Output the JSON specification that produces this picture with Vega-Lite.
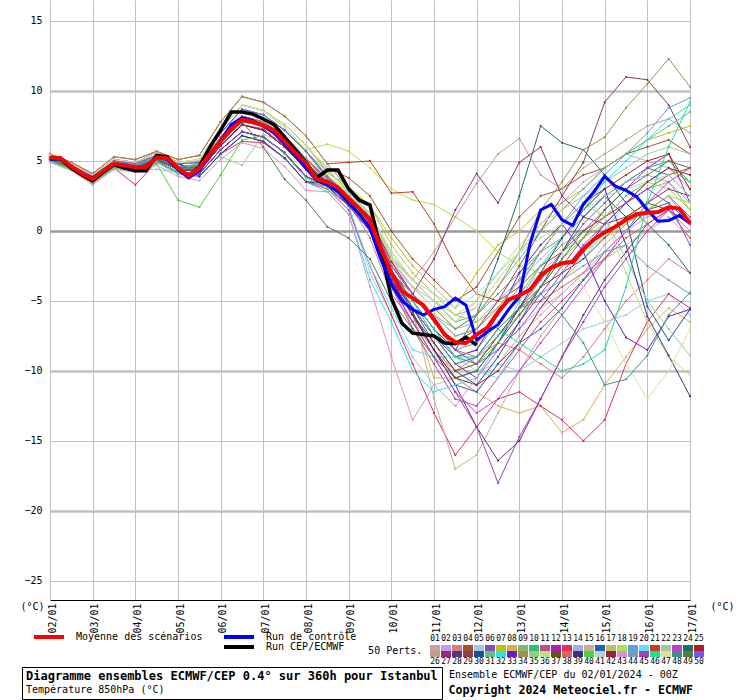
{
"$schema": "https://vega.github.io/schema/vega-lite/v6.json",
"width": 640,
"height": 600,
"autosize": {"type": "none"},
"padding": {"left": 50, "top": 0, "right": 50, "bottom": 100},
"background": "white",
"config": {
  "view": {"stroke": null},
  "font": "DejaVu Sans Mono",
  "axis": {"labelFont": "DejaVu Sans Mono", "labelFontSize": 10, "labelColor": "black", "titleFont": "DejaVu Sans Mono", "titleFontSize": 10, "titleFontWeight": "normal", "titleColor": "black"},
  "legend": {"labelFont": "DejaVu Sans Mono", "titleFont": "DejaVu Sans Mono", "labelColor": "black", "titleColor": "black"}
},
"datasets": {
"members": [
{"m":1,"h":0,"v":5.3},{"m":1,"h":12,"v":4.7},{"m":1,"h":24,"v":3.8},{"m":1,"h":36,"v":4.9},{"m":1,"h":48,"v":4.7},{"m":1,"h":60,"v":5.3},{"m":1,"h":72,"v":4.6},{"m":1,"h":84,"v":4.7},{"m":1,"h":96,"v":6.7},{"m":1,"h":108,"v":8.2},{"m":1,"h":120,"v":7.8},{"m":1,"h":132,"v":6.8},{"m":1,"h":144,"v":5.2},{"m":1,"h":156,"v":3.8},{"m":1,"h":168,"v":2.6},{"m":1,"h":180,"v":0.8},{"m":1,"h":192,"v":-3.2},{"m":1,"h":204,"v":-7},{"m":1,"h":216,"v":-8},{"m":1,"h":228,"v":-10.5},{"m":1,"h":240,"v":-11.5},{"m":1,"h":252,"v":-9.5},{"m":1,"h":264,"v":-7.5},{"m":1,"h":276,"v":-6},{"m":1,"h":288,"v":-4.5},{"m":1,"h":300,"v":-3},{"m":1,"h":312,"v":-1},{"m":1,"h":324,"v":0.5},{"m":1,"h":336,"v":1.5},{"m":1,"h":348,"v":2.5},{"m":1,"h":360,"v":0.5},
{"m":2,"h":0,"v":5.1},{"m":2,"h":12,"v":4.5},{"m":2,"h":24,"v":3.5},{"m":2,"h":36,"v":4.6},{"m":2,"h":48,"v":4.4},{"m":2,"h":60,"v":5},{"m":2,"h":72,"v":4.2},{"m":2,"h":84,"v":4.1},{"m":2,"h":96,"v":5.8},{"m":2,"h":108,"v":7.1},{"m":2,"h":120,"v":6.7},{"m":2,"h":132,"v":5.6},{"m":2,"h":144,"v":3.9},{"m":2,"h":156,"v":3.2},{"m":2,"h":168,"v":2},{"m":2,"h":180,"v":0},{"m":2,"h":192,"v":-2.5},{"m":2,"h":204,"v":-4},{"m":2,"h":216,"v":-5},{"m":2,"h":228,"v":-6},{"m":2,"h":240,"v":-5.5},{"m":2,"h":252,"v":-3.5},{"m":2,"h":264,"v":-1.5},{"m":2,"h":276,"v":0.5},{"m":2,"h":288,"v":2},{"m":2,"h":300,"v":3.5},{"m":2,"h":312,"v":4.5},{"m":2,"h":324,"v":5.5},{"m":2,"h":336,"v":5},{"m":2,"h":348,"v":4.5},{"m":2,"h":360,"v":3},
{"m":3,"h":0,"v":5.2},{"m":3,"h":12,"v":4.5},{"m":3,"h":24,"v":3.7},{"m":3,"h":36,"v":4.9},{"m":3,"h":48,"v":4.6},{"m":3,"h":60,"v":5.1},{"m":3,"h":72,"v":4.5},{"m":3,"h":84,"v":4.4},{"m":3,"h":96,"v":6.4},{"m":3,"h":108,"v":7.9},{"m":3,"h":120,"v":7.6},{"m":3,"h":132,"v":6.4},{"m":3,"h":144,"v":4.8},{"m":3,"h":156,"v":3.4},{"m":3,"h":168,"v":2},{"m":3,"h":180,"v":-0.5},{"m":3,"h":192,"v":-4.5},{"m":3,"h":204,"v":-6.5},{"m":3,"h":216,"v":-8.5},{"m":3,"h":228,"v":-10},{"m":3,"h":240,"v":-9},{"m":3,"h":252,"v":-8},{"m":3,"h":264,"v":-8.5},{"m":3,"h":276,"v":-9.5},{"m":3,"h":288,"v":-10.5},{"m":3,"h":300,"v":-9},{"m":3,"h":312,"v":-7},{"m":3,"h":324,"v":-5},{"m":3,"h":336,"v":-3.5},{"m":3,"h":348,"v":-2},{"m":3,"h":360,"v":-3},
{"m":4,"h":0,"v":5.4},{"m":4,"h":12,"v":4.8},{"m":4,"h":24,"v":4},{"m":4,"h":36,"v":5.1},{"m":4,"h":48,"v":4.9},{"m":4,"h":60,"v":5.6},{"m":4,"h":72,"v":4.9},{"m":4,"h":84,"v":5.1},{"m":4,"h":96,"v":7.3},{"m":4,"h":108,"v":9},{"m":4,"h":120,"v":8.6},{"m":4,"h":132,"v":7.6},{"m":4,"h":144,"v":6.1},{"m":4,"h":156,"v":4.5},{"m":4,"h":168,"v":3.8},{"m":4,"h":180,"v":2.5},{"m":4,"h":192,"v":0},{"m":4,"h":204,"v":-2},{"m":4,"h":216,"v":-3.5},{"m":4,"h":228,"v":-5},{"m":4,"h":240,"v":-4},{"m":4,"h":252,"v":-1.5},{"m":4,"h":264,"v":1},{"m":4,"h":276,"v":2.5},{"m":4,"h":288,"v":3},{"m":4,"h":300,"v":4},{"m":4,"h":312,"v":4.5},{"m":4,"h":324,"v":5.5},{"m":4,"h":336,"v":6},{"m":4,"h":348,"v":6.5},{"m":4,"h":360,"v":5.5},
{"m":5,"h":0,"v":5.1},{"m":5,"h":12,"v":4.5},{"m":5,"h":24,"v":3.5},{"m":5,"h":36,"v":4.6},{"m":5,"h":48,"v":4.4},{"m":5,"h":60,"v":5},{"m":5,"h":72,"v":4.2},{"m":5,"h":84,"v":4.9},{"m":5,"h":96,"v":7},{"m":5,"h":108,"v":8.7},{"m":5,"h":120,"v":8.3},{"m":5,"h":132,"v":7.2},{"m":5,"h":144,"v":5.7},{"m":5,"h":156,"v":3.6},{"m":5,"h":168,"v":1.8},{"m":5,"h":180,"v":-3},{"m":5,"h":192,"v":-6},{"m":5,"h":204,"v":-9},{"m":5,"h":216,"v":-11},{"m":5,"h":228,"v":-10.5},{"m":5,"h":240,"v":-10},{"m":5,"h":252,"v":-9.5},{"m":5,"h":264,"v":-10},{"m":5,"h":276,"v":-9},{"m":5,"h":288,"v":-8},{"m":5,"h":300,"v":-7},{"m":5,"h":312,"v":-6.5},{"m":5,"h":324,"v":-6},{"m":5,"h":336,"v":-5},{"m":5,"h":348,"v":-4.5},{"m":5,"h":360,"v":-6},
{"m":6,"h":0,"v":5.1},{"m":6,"h":12,"v":4.5},{"m":6,"h":24,"v":3.6},{"m":6,"h":36,"v":4.7},{"m":6,"h":48,"v":4.5},{"m":6,"h":60,"v":5.1},{"m":6,"h":72,"v":4.4},{"m":6,"h":84,"v":4.3},{"m":6,"h":96,"v":6.1},{"m":6,"h":108,"v":7.6},{"m":6,"h":120,"v":7.2},{"m":6,"h":132,"v":6},{"m":6,"h":144,"v":4.4},{"m":6,"h":156,"v":3.6},{"m":6,"h":168,"v":2.2},{"m":6,"h":180,"v":0.8},{"m":6,"h":192,"v":-2.8},{"m":6,"h":204,"v":-5},{"m":6,"h":216,"v":-7},{"m":6,"h":228,"v":-9},{"m":6,"h":240,"v":-9.5},{"m":6,"h":252,"v":-7.5},{"m":6,"h":264,"v":-5.5},{"m":6,"h":276,"v":-3.5},{"m":6,"h":288,"v":-1.5},{"m":6,"h":300,"v":0.5},{"m":6,"h":312,"v":2},{"m":6,"h":324,"v":3.5},{"m":6,"h":336,"v":4.5},{"m":6,"h":348,"v":4},{"m":6,"h":360,"v":2.5},
{"m":7,"h":0,"v":5.3},{"m":7,"h":12,"v":4.7},{"m":7,"h":24,"v":3.9},{"m":7,"h":36,"v":5},{"m":7,"h":48,"v":4.8},{"m":7,"h":60,"v":5.4},{"m":7,"h":72,"v":4.8},{"m":7,"h":84,"v":4.9},{"m":7,"h":96,"v":7},{"m":7,"h":108,"v":8.7},{"m":7,"h":120,"v":8.3},{"m":7,"h":132,"v":7.2},{"m":7,"h":144,"v":5.7},{"m":7,"h":156,"v":4.2},{"m":7,"h":168,"v":3},{"m":7,"h":180,"v":1.8},{"m":7,"h":192,"v":-0.5},{"m":7,"h":204,"v":-2.5},{"m":7,"h":216,"v":-4},{"m":7,"h":228,"v":-5.5},{"m":7,"h":240,"v":-3},{"m":7,"h":252,"v":-1},{"m":7,"h":264,"v":0},{"m":7,"h":276,"v":1.5},{"m":7,"h":288,"v":2},{"m":7,"h":300,"v":3},{"m":7,"h":312,"v":4.5},{"m":7,"h":324,"v":5.5},{"m":7,"h":336,"v":6.5},{"m":7,"h":348,"v":7},{"m":7,"h":360,"v":7.5},
{"m":8,"h":0,"v":5.3},{"m":8,"h":12,"v":4.7},{"m":8,"h":24,"v":3.9},{"m":8,"h":36,"v":5},{"m":8,"h":48,"v":4.8},{"m":8,"h":60,"v":5.4},{"m":8,"h":72,"v":4.8},{"m":8,"h":84,"v":4.1},{"m":8,"h":96,"v":5.8},{"m":8,"h":108,"v":7.1},{"m":8,"h":120,"v":6.7},{"m":8,"h":132,"v":5.6},{"m":8,"h":144,"v":3.9},{"m":8,"h":156,"v":3.2},{"m":8,"h":168,"v":1.8},{"m":8,"h":180,"v":0},{"m":8,"h":192,"v":-3.5},{"m":8,"h":204,"v":-6},{"m":8,"h":216,"v":-10.5},{"m":8,"h":228,"v":-10.5},{"m":8,"h":240,"v":-11.5},{"m":8,"h":252,"v":-12.5},{"m":8,"h":264,"v":-13},{"m":8,"h":276,"v":-12.5},{"m":8,"h":288,"v":-14.4},{"m":8,"h":300,"v":-13.5},{"m":8,"h":312,"v":-11},{"m":8,"h":324,"v":-9},{"m":8,"h":336,"v":-7},{"m":8,"h":348,"v":-5.5},{"m":8,"h":360,"v":-6.5},
{"m":9,"h":0,"v":5.2},{"m":9,"h":12,"v":4.7},{"m":9,"h":24,"v":3.8},{"m":9,"h":36,"v":4.8},{"m":9,"h":48,"v":4.7},{"m":9,"h":60,"v":5.3},{"m":9,"h":72,"v":4.6},{"m":9,"h":84,"v":4.6},{"m":9,"h":96,"v":6.7},{"m":9,"h":108,"v":8.2},{"m":9,"h":120,"v":7.7},{"m":9,"h":132,"v":6.7},{"m":9,"h":144,"v":5.1},{"m":9,"h":156,"v":3.5},{"m":9,"h":168,"v":2.3},{"m":9,"h":180,"v":0.6},{"m":9,"h":192,"v":-3},{"m":9,"h":204,"v":-5},{"m":9,"h":216,"v":-7},{"m":9,"h":228,"v":-9},{"m":9,"h":240,"v":-8.5},{"m":9,"h":252,"v":-6.5},{"m":9,"h":264,"v":-4.5},{"m":9,"h":276,"v":-2.5},{"m":9,"h":288,"v":-1},{"m":9,"h":300,"v":0},{"m":9,"h":312,"v":1},{"m":9,"h":324,"v":2},{"m":9,"h":336,"v":3},{"m":9,"h":348,"v":3.5},{"m":9,"h":360,"v":1.5},
{"m":10,"h":0,"v":5},{"m":10,"h":12,"v":4.4},{"m":10,"h":24,"v":3.5},{"m":10,"h":36,"v":4.5},{"m":10,"h":48,"v":4.3},{"m":10,"h":60,"v":4.9},{"m":10,"h":72,"v":4.1},{"m":10,"h":84,"v":5.1},{"m":10,"h":96,"v":7.3},{"m":10,"h":108,"v":9},{"m":10,"h":120,"v":8.6},{"m":10,"h":132,"v":7.6},{"m":10,"h":144,"v":6.1},{"m":10,"h":156,"v":4.5},{"m":10,"h":168,"v":2.7},{"m":10,"h":180,"v":1.2},{"m":10,"h":192,"v":-1.8},{"m":10,"h":204,"v":-3.5},{"m":10,"h":216,"v":-5},{"m":10,"h":228,"v":-6.5},{"m":10,"h":240,"v":-6},{"m":10,"h":252,"v":-4.5},{"m":10,"h":264,"v":-3},{"m":10,"h":276,"v":-1.5},{"m":10,"h":288,"v":-0.5},{"m":10,"h":300,"v":1},{"m":10,"h":312,"v":2.5},{"m":10,"h":324,"v":3.5},{"m":10,"h":336,"v":4.5},{"m":10,"h":348,"v":5},{"m":10,"h":360,"v":3.5},
{"m":11,"h":0,"v":5.1},{"m":11,"h":12,"v":4.6},{"m":11,"h":24,"v":3.6},{"m":11,"h":36,"v":4.7},{"m":11,"h":48,"v":4.5},{"m":11,"h":60,"v":5.2},{"m":11,"h":72,"v":4.4},{"m":11,"h":84,"v":4.4},{"m":11,"h":96,"v":6.1},{"m":11,"h":108,"v":7.6},{"m":11,"h":120,"v":7.3},{"m":11,"h":132,"v":6.1},{"m":11,"h":144,"v":4.5},{"m":11,"h":156,"v":3.5},{"m":11,"h":168,"v":2.2},{"m":11,"h":180,"v":0.3},{"m":11,"h":192,"v":-4},{"m":11,"h":204,"v":-7},{"m":11,"h":216,"v":-9.5},{"m":11,"h":228,"v":-12},{"m":11,"h":240,"v":-12.5},{"m":11,"h":252,"v":-10.5},{"m":11,"h":264,"v":-8.5},{"m":11,"h":276,"v":-6.5},{"m":11,"h":288,"v":-5},{"m":11,"h":300,"v":-3.5},{"m":11,"h":312,"v":-2},{"m":11,"h":324,"v":0},{"m":11,"h":336,"v":1.5},{"m":11,"h":348,"v":2.5},{"m":11,"h":360,"v":1},
{"m":12,"h":0,"v":5.2},{"m":12,"h":12,"v":4.6},{"m":12,"h":24,"v":3.7},{"m":12,"h":36,"v":4.8},{"m":12,"h":48,"v":4.6},{"m":12,"h":60,"v":5.2},{"m":12,"h":72,"v":4.5},{"m":12,"h":84,"v":4.5},{"m":12,"h":96,"v":6.4},{"m":12,"h":108,"v":7.9},{"m":12,"h":120,"v":7.5},{"m":12,"h":132,"v":6.4},{"m":12,"h":144,"v":4.8},{"m":12,"h":156,"v":3.4},{"m":12,"h":168,"v":2.2},{"m":12,"h":180,"v":0.5},{"m":12,"h":192,"v":-3.5},{"m":12,"h":204,"v":-5.5},{"m":12,"h":216,"v":-7.5},{"m":12,"h":228,"v":-9.5},{"m":12,"h":240,"v":-10.5},{"m":12,"h":252,"v":-8.5},{"m":12,"h":264,"v":-6.5},{"m":12,"h":276,"v":-4.5},{"m":12,"h":288,"v":-2.5},{"m":12,"h":300,"v":-0.5},{"m":12,"h":312,"v":1.5},{"m":12,"h":324,"v":3},{"m":12,"h":336,"v":4.5},{"m":12,"h":348,"v":5.5},{"m":12,"h":360,"v":2},
{"m":13,"h":0,"v":5},{"m":13,"h":12,"v":4.4},{"m":13,"h":24,"v":3.4},{"m":13,"h":36,"v":4.5},{"m":13,"h":48,"v":3.3},{"m":13,"h":60,"v":4.9},{"m":13,"h":72,"v":4.1},{"m":13,"h":84,"v":3.9},{"m":13,"h":96,"v":5.5},{"m":13,"h":108,"v":6.4},{"m":13,"h":120,"v":6.3},{"m":13,"h":132,"v":5.2},{"m":13,"h":144,"v":3.5},{"m":13,"h":156,"v":3},{"m":13,"h":168,"v":1.5},{"m":13,"h":180,"v":-2.5},{"m":13,"h":192,"v":-6},{"m":13,"h":204,"v":-9.5},{"m":13,"h":216,"v":-13},{"m":13,"h":228,"v":-16},{"m":13,"h":240,"v":-14},{"m":13,"h":252,"v":-12},{"m":13,"h":264,"v":-11.5},{"m":13,"h":276,"v":-12.5},{"m":13,"h":288,"v":-13.5},{"m":13,"h":300,"v":-15},{"m":13,"h":312,"v":-13.5},{"m":13,"h":324,"v":-9.5},{"m":13,"h":336,"v":-6.5},{"m":13,"h":348,"v":-4.5},{"m":13,"h":360,"v":-5.5},
{"m":14,"h":0,"v":5.3},{"m":14,"h":12,"v":4.7},{"m":14,"h":24,"v":3.9},{"m":14,"h":36,"v":5},{"m":14,"h":48,"v":4.8},{"m":14,"h":60,"v":5.4},{"m":14,"h":72,"v":4.8},{"m":14,"h":84,"v":4.9},{"m":14,"h":96,"v":7},{"m":14,"h":108,"v":8.7},{"m":14,"h":120,"v":8.3},{"m":14,"h":132,"v":7.2},{"m":14,"h":144,"v":5.7},{"m":14,"h":156,"v":3.9},{"m":14,"h":168,"v":2.5},{"m":14,"h":180,"v":1},{"m":14,"h":192,"v":-2.2},{"m":14,"h":204,"v":-4},{"m":14,"h":216,"v":-5.5},{"m":14,"h":228,"v":-7},{"m":14,"h":240,"v":-6.5},{"m":14,"h":252,"v":-5},{"m":14,"h":264,"v":-3.5},{"m":14,"h":276,"v":-2},{"m":14,"h":288,"v":-0.5},{"m":14,"h":300,"v":1},{"m":14,"h":312,"v":2.5},{"m":14,"h":324,"v":3.5},{"m":14,"h":336,"v":4},{"m":14,"h":348,"v":3.5},{"m":14,"h":360,"v":2},
{"m":15,"h":0,"v":5.3},{"m":15,"h":12,"v":4.7},{"m":15,"h":24,"v":3.8},{"m":15,"h":36,"v":4.9},{"m":15,"h":48,"v":4.7},{"m":15,"h":60,"v":5.3},{"m":15,"h":72,"v":4.6},{"m":15,"h":84,"v":4.7},{"m":15,"h":96,"v":6.7},{"m":15,"h":108,"v":8.2},{"m":15,"h":120,"v":7.8},{"m":15,"h":132,"v":6.8},{"m":15,"h":144,"v":5.2},{"m":15,"h":156,"v":3.7},{"m":15,"h":168,"v":2.5},{"m":15,"h":180,"v":1},{"m":15,"h":192,"v":-2},{"m":15,"h":204,"v":-5.5},{"m":15,"h":216,"v":-12},{"m":15,"h":228,"v":-17},{"m":15,"h":240,"v":-16},{"m":15,"h":252,"v":-13},{"m":15,"h":264,"v":-10},{"m":15,"h":276,"v":-7.5},{"m":15,"h":288,"v":-5.5},{"m":15,"h":300,"v":-3.5},{"m":15,"h":312,"v":-2},{"m":15,"h":324,"v":-1},{"m":15,"h":336,"v":0},{"m":15,"h":348,"v":1},{"m":15,"h":360,"v":-0.5},
{"m":16,"h":0,"v":5.4},{"m":16,"h":12,"v":4.8},{"m":16,"h":24,"v":4},{"m":16,"h":36,"v":5.1},{"m":16,"h":48,"v":4.9},{"m":16,"h":60,"v":5.6},{"m":16,"h":72,"v":4.9},{"m":16,"h":84,"v":3.9},{"m":16,"h":96,"v":5.5},{"m":16,"h":108,"v":6.8},{"m":16,"h":120,"v":6.4},{"m":16,"h":132,"v":5.2},{"m":16,"h":144,"v":3.5},{"m":16,"h":156,"v":3.4},{"m":16,"h":168,"v":2},{"m":16,"h":180,"v":0.4},{"m":16,"h":192,"v":-3.2},{"m":16,"h":204,"v":-5.8},{"m":16,"h":216,"v":-8.5},{"m":16,"h":228,"v":-11},{"m":16,"h":240,"v":-11.5},{"m":16,"h":252,"v":-9.5},{"m":16,"h":264,"v":-8},{"m":16,"h":276,"v":-7},{"m":16,"h":288,"v":-5.5},{"m":16,"h":300,"v":-3.5},{"m":16,"h":312,"v":-1.5},{"m":16,"h":324,"v":0},{"m":16,"h":336,"v":1.5},{"m":16,"h":348,"v":2},{"m":16,"h":360,"v":0.5},
{"m":17,"h":0,"v":5.4},{"m":17,"h":12,"v":4.8},{"m":17,"h":24,"v":4},{"m":17,"h":36,"v":5.1},{"m":17,"h":48,"v":4.9},{"m":17,"h":60,"v":5.6},{"m":17,"h":72,"v":4.9},{"m":17,"h":84,"v":5.1},{"m":17,"h":96,"v":7.3},{"m":17,"h":108,"v":9},{"m":17,"h":120,"v":8.6},{"m":17,"h":132,"v":7.6},{"m":17,"h":144,"v":6.1},{"m":17,"h":156,"v":4.2},{"m":17,"h":168,"v":3.2},{"m":17,"h":180,"v":1.8},{"m":17,"h":192,"v":-1},{"m":17,"h":204,"v":-3},{"m":17,"h":216,"v":-4.5},{"m":17,"h":228,"v":-6},{"m":17,"h":240,"v":-6.5},{"m":17,"h":252,"v":-5.5},{"m":17,"h":264,"v":-4.5},{"m":17,"h":276,"v":-3},{"m":17,"h":288,"v":-1.5},{"m":17,"h":300,"v":-0.5},{"m":17,"h":312,"v":0.5},{"m":17,"h":324,"v":2},{"m":17,"h":336,"v":3.5},{"m":17,"h":348,"v":3},{"m":17,"h":360,"v":1.5},
{"m":18,"h":0,"v":5.4},{"m":18,"h":12,"v":4.8},{"m":18,"h":24,"v":4},{"m":18,"h":36,"v":5.1},{"m":18,"h":48,"v":4.9},{"m":18,"h":60,"v":5.6},{"m":18,"h":72,"v":4.9},{"m":18,"h":84,"v":5.1},{"m":18,"h":96,"v":7.3},{"m":18,"h":108,"v":9},{"m":18,"h":120,"v":8.6},{"m":18,"h":132,"v":7.4},{"m":18,"h":144,"v":5.8},{"m":18,"h":156,"v":6.2},{"m":18,"h":168,"v":5.7},{"m":18,"h":180,"v":4.5},{"m":18,"h":192,"v":3},{"m":18,"h":204,"v":2.2},{"m":18,"h":216,"v":1.9},{"m":18,"h":228,"v":1},{"m":18,"h":240,"v":0},{"m":18,"h":252,"v":-1.5},{"m":18,"h":264,"v":-2.5},{"m":18,"h":276,"v":-3},{"m":18,"h":288,"v":-2.5},{"m":18,"h":300,"v":-1.5},{"m":18,"h":312,"v":-0.5},{"m":18,"h":324,"v":0.5},{"m":18,"h":336,"v":1.5},{"m":18,"h":348,"v":2.5},{"m":18,"h":360,"v":2},
{"m":19,"h":0,"v":5.1},{"m":19,"h":12,"v":4.5},{"m":19,"h":24,"v":3.6},{"m":19,"h":36,"v":4.7},{"m":19,"h":48,"v":4.5},{"m":19,"h":60,"v":5.1},{"m":19,"h":72,"v":4.4},{"m":19,"h":84,"v":4.3},{"m":19,"h":96,"v":6.1},{"m":19,"h":108,"v":7.6},{"m":19,"h":120,"v":7.2},{"m":19,"h":132,"v":6},{"m":19,"h":144,"v":4.4},{"m":19,"h":156,"v":3.5},{"m":19,"h":168,"v":2.2},{"m":19,"h":180,"v":0.6},{"m":19,"h":192,"v":-3},{"m":19,"h":204,"v":-5},{"m":19,"h":216,"v":-7},{"m":19,"h":228,"v":-8.5},{"m":19,"h":240,"v":-8},{"m":19,"h":252,"v":-6},{"m":19,"h":264,"v":-4},{"m":19,"h":276,"v":-1.5},{"m":19,"h":288,"v":0.5},{"m":19,"h":300,"v":2.5},{"m":19,"h":312,"v":4},{"m":19,"h":324,"v":5.5},{"m":19,"h":336,"v":7},{"m":19,"h":348,"v":8.8},{"m":19,"h":360,"v":9.5},
{"m":20,"h":0,"v":5.1},{"m":20,"h":12,"v":4.5},{"m":20,"h":24,"v":3.5},{"m":20,"h":36,"v":4.6},{"m":20,"h":48,"v":4.4},{"m":20,"h":60,"v":4.4},{"m":20,"h":72,"v":4.2},{"m":20,"h":84,"v":4.1},{"m":20,"h":96,"v":5.8},{"m":20,"h":108,"v":7.1},{"m":20,"h":120,"v":6.7},{"m":20,"h":132,"v":5.6},{"m":20,"h":144,"v":3.9},{"m":20,"h":156,"v":3.2},{"m":20,"h":168,"v":1.8},{"m":20,"h":180,"v":-2.5},{"m":20,"h":192,"v":-5.5},{"m":20,"h":204,"v":-8.5},{"m":20,"h":216,"v":-9},{"m":20,"h":228,"v":-9},{"m":20,"h":240,"v":-10},{"m":20,"h":252,"v":-10.5},{"m":20,"h":264,"v":-8},{"m":20,"h":276,"v":-5.5},{"m":20,"h":288,"v":-3.5},{"m":20,"h":300,"v":-2},{"m":20,"h":312,"v":0},{"m":20,"h":324,"v":2},{"m":20,"h":336,"v":3.5},{"m":20,"h":348,"v":4.5},{"m":20,"h":360,"v":3.5},
{"m":21,"h":0,"v":5.5},{"m":21,"h":12,"v":4.9},{"m":21,"h":24,"v":4.1},{"m":21,"h":36,"v":5.3},{"m":21,"h":48,"v":5.1},{"m":21,"h":60,"v":5.7},{"m":21,"h":72,"v":5.1},{"m":21,"h":84,"v":5.4},{"m":21,"h":96,"v":7.8},{"m":21,"h":108,"v":9.6},{"m":21,"h":120,"v":9.2},{"m":21,"h":132,"v":8.2},{"m":21,"h":144,"v":6.8},{"m":21,"h":156,"v":4.8},{"m":21,"h":168,"v":4.9},{"m":21,"h":180,"v":5},{"m":21,"h":192,"v":2.7},{"m":21,"h":204,"v":2.8},{"m":21,"h":216,"v":0.5},{"m":21,"h":228,"v":-2.5},{"m":21,"h":240,"v":-4.5},{"m":21,"h":252,"v":-5},{"m":21,"h":264,"v":-4},{"m":21,"h":276,"v":-2.5},{"m":21,"h":288,"v":-1.5},{"m":21,"h":300,"v":0},{"m":21,"h":312,"v":1},{"m":21,"h":324,"v":2},{"m":21,"h":336,"v":3},{"m":21,"h":348,"v":4},{"m":21,"h":360,"v":4.5},
{"m":22,"h":0,"v":5.2},{"m":22,"h":12,"v":4.6},{"m":22,"h":24,"v":3.7},{"m":22,"h":36,"v":4.8},{"m":22,"h":48,"v":4.6},{"m":22,"h":60,"v":5.2},{"m":22,"h":72,"v":4.5},{"m":22,"h":84,"v":4.6},{"m":22,"h":96,"v":5.3},{"m":22,"h":108,"v":4.7},{"m":22,"h":120,"v":6.9},{"m":22,"h":132,"v":6.3},{"m":22,"h":144,"v":5},{"m":22,"h":156,"v":3.8},{"m":22,"h":168,"v":2.6},{"m":22,"h":180,"v":1.2},{"m":22,"h":192,"v":-1.5},{"m":22,"h":204,"v":-3.5},{"m":22,"h":216,"v":-5},{"m":22,"h":228,"v":-6.5},{"m":22,"h":240,"v":-5},{"m":22,"h":252,"v":-3},{"m":22,"h":264,"v":-1.5},{"m":22,"h":276,"v":0},{"m":22,"h":288,"v":1.5},{"m":22,"h":300,"v":2.5},{"m":22,"h":312,"v":3.5},{"m":22,"h":324,"v":4.5},{"m":22,"h":336,"v":5.5},{"m":22,"h":348,"v":6},{"m":22,"h":360,"v":5.5},
{"m":23,"h":0,"v":5},{"m":23,"h":12,"v":4.4},{"m":23,"h":24,"v":3.5},{"m":23,"h":36,"v":4.5},{"m":23,"h":48,"v":4.3},{"m":23,"h":60,"v":4.9},{"m":23,"h":72,"v":4.1},{"m":23,"h":84,"v":3.9},{"m":23,"h":96,"v":5.5},{"m":23,"h":108,"v":6.8},{"m":23,"h":120,"v":6.4},{"m":23,"h":132,"v":5.2},{"m":23,"h":144,"v":3.5},{"m":23,"h":156,"v":3.2},{"m":23,"h":168,"v":1.8},{"m":23,"h":180,"v":0},{"m":23,"h":192,"v":-4},{"m":23,"h":204,"v":-6.5},{"m":23,"h":216,"v":-9},{"m":23,"h":228,"v":-11.5},{"m":23,"h":240,"v":-13},{"m":23,"h":252,"v":-12},{"m":23,"h":264,"v":-10},{"m":23,"h":276,"v":-8},{"m":23,"h":288,"v":-6},{"m":23,"h":300,"v":-4},{"m":23,"h":312,"v":-2},{"m":23,"h":324,"v":0},{"m":23,"h":336,"v":2},{"m":23,"h":348,"v":3.5},{"m":23,"h":360,"v":4.5},
{"m":24,"h":0,"v":5.2},{"m":24,"h":12,"v":4.6},{"m":24,"h":24,"v":3.8},{"m":24,"h":36,"v":4.8},{"m":24,"h":48,"v":4.6},{"m":24,"h":60,"v":5.2},{"m":24,"h":72,"v":4.5},{"m":24,"h":84,"v":4.6},{"m":24,"h":96,"v":6.5},{"m":24,"h":108,"v":7.9},{"m":24,"h":120,"v":7.5},{"m":24,"h":132,"v":6.3},{"m":24,"h":144,"v":4.8},{"m":24,"h":156,"v":3.5},{"m":24,"h":168,"v":2.3},{"m":24,"h":180,"v":0.8},{"m":24,"h":192,"v":-2.8},{"m":24,"h":204,"v":-5},{"m":24,"h":216,"v":-7},{"m":24,"h":228,"v":-8.5},{"m":24,"h":240,"v":-6},{"m":24,"h":252,"v":-2},{"m":24,"h":264,"v":2.5},{"m":24,"h":276,"v":7.5},{"m":24,"h":288,"v":6.3},{"m":24,"h":300,"v":5.8},{"m":24,"h":312,"v":4},{"m":24,"h":324,"v":2},{"m":24,"h":336,"v":0.5},{"m":24,"h":348,"v":-1},{"m":24,"h":360,"v":-3},
{"m":25,"h":0,"v":5.1},{"m":25,"h":12,"v":4.5},{"m":25,"h":24,"v":3.5},{"m":25,"h":36,"v":4.6},{"m":25,"h":48,"v":4.4},{"m":25,"h":60,"v":5},{"m":25,"h":72,"v":4.2},{"m":25,"h":84,"v":4.9},{"m":25,"h":96,"v":7},{"m":25,"h":108,"v":8.7},{"m":25,"h":120,"v":8.3},{"m":25,"h":132,"v":7.2},{"m":25,"h":144,"v":5.7},{"m":25,"h":156,"v":3.8},{"m":25,"h":168,"v":2.4},{"m":25,"h":180,"v":1},{"m":25,"h":192,"v":-2.2},{"m":25,"h":204,"v":-4.5},{"m":25,"h":216,"v":-6.5},{"m":25,"h":228,"v":-8},{"m":25,"h":240,"v":-7},{"m":25,"h":252,"v":-5.5},{"m":25,"h":264,"v":-3.5},{"m":25,"h":276,"v":-1.5},{"m":25,"h":288,"v":0.5},{"m":25,"h":300,"v":2},{"m":25,"h":312,"v":3},{"m":25,"h":324,"v":4},{"m":25,"h":336,"v":5},{"m":25,"h":348,"v":5.5},{"m":25,"h":360,"v":3},
{"m":26,"h":0,"v":5.3},{"m":26,"h":12,"v":4.7},{"m":26,"h":24,"v":3.9},{"m":26,"h":36,"v":5},{"m":26,"h":48,"v":4.8},{"m":26,"h":60,"v":5.4},{"m":26,"h":72,"v":4.8},{"m":26,"h":84,"v":4.9},{"m":26,"h":96,"v":7},{"m":26,"h":108,"v":8.7},{"m":26,"h":120,"v":8.3},{"m":26,"h":132,"v":7.2},{"m":26,"h":144,"v":5.7},{"m":26,"h":156,"v":3.9},{"m":26,"h":168,"v":2.6},{"m":26,"h":180,"v":1},{"m":26,"h":192,"v":-2},{"m":26,"h":204,"v":-3.5},{"m":26,"h":216,"v":-1.5},{"m":26,"h":228,"v":1},{"m":26,"h":240,"v":3.4},{"m":26,"h":252,"v":5.5},{"m":26,"h":264,"v":6.6},{"m":26,"h":276,"v":4},{"m":26,"h":288,"v":3},{"m":26,"h":300,"v":4.5},{"m":26,"h":312,"v":5.5},{"m":26,"h":324,"v":6.5},{"m":26,"h":336,"v":7.5},{"m":26,"h":348,"v":8},{"m":26,"h":360,"v":7},
{"m":27,"h":0,"v":5.1},{"m":27,"h":12,"v":4.5},{"m":27,"h":24,"v":3.6},{"m":27,"h":36,"v":4.7},{"m":27,"h":48,"v":4.5},{"m":27,"h":60,"v":5.1},{"m":27,"h":72,"v":4.4},{"m":27,"h":84,"v":4.3},{"m":27,"h":96,"v":6.1},{"m":27,"h":108,"v":7.6},{"m":27,"h":120,"v":7.2},{"m":27,"h":132,"v":6},{"m":27,"h":144,"v":4.4},{"m":27,"h":156,"v":3.4},{"m":27,"h":168,"v":2.1},{"m":27,"h":180,"v":0.4},{"m":27,"h":192,"v":-3},{"m":27,"h":204,"v":-4.5},{"m":27,"h":216,"v":-2},{"m":27,"h":228,"v":1.5},{"m":27,"h":240,"v":4.1},{"m":27,"h":252,"v":2},{"m":27,"h":264,"v":4.9},{"m":27,"h":276,"v":6},{"m":27,"h":288,"v":2.5},{"m":27,"h":300,"v":1},{"m":27,"h":312,"v":0.5},{"m":27,"h":324,"v":1},{"m":27,"h":336,"v":2},{"m":27,"h":348,"v":3},{"m":27,"h":360,"v":2.5},
{"m":28,"h":0,"v":5.1},{"m":28,"h":12,"v":4.5},{"m":28,"h":24,"v":3.5},{"m":28,"h":36,"v":4.6},{"m":28,"h":48,"v":4.4},{"m":28,"h":60,"v":5},{"m":28,"h":72,"v":4.2},{"m":28,"h":84,"v":4.1},{"m":28,"h":96,"v":5.8},{"m":28,"h":108,"v":7.1},{"m":28,"h":120,"v":6.7},{"m":28,"h":132,"v":5.6},{"m":28,"h":144,"v":3.9},{"m":28,"h":156,"v":3.2},{"m":28,"h":168,"v":1.8},{"m":28,"h":180,"v":0.2},{"m":28,"h":192,"v":-3.5},{"m":28,"h":204,"v":-6},{"m":28,"h":216,"v":-8.5},{"m":28,"h":228,"v":-11},{"m":28,"h":240,"v":-14},{"m":28,"h":252,"v":-16.4},{"m":28,"h":264,"v":-15},{"m":28,"h":276,"v":-12},{"m":28,"h":288,"v":-9},{"m":28,"h":300,"v":-6},{"m":28,"h":312,"v":-3.5},{"m":28,"h":324,"v":-1.5},{"m":28,"h":336,"v":0.5},{"m":28,"h":348,"v":1.5},{"m":28,"h":360,"v":0},
{"m":29,"h":0,"v":5.3},{"m":29,"h":12,"v":4.7},{"m":29,"h":24,"v":3.8},{"m":29,"h":36,"v":4.9},{"m":29,"h":48,"v":4.7},{"m":29,"h":60,"v":5.3},{"m":29,"h":72,"v":4.6},{"m":29,"h":84,"v":4.7},{"m":29,"h":96,"v":6.7},{"m":29,"h":108,"v":8.2},{"m":29,"h":120,"v":7.8},{"m":29,"h":132,"v":6.8},{"m":29,"h":144,"v":5.2},{"m":29,"h":156,"v":3.5},{"m":29,"h":168,"v":2.3},{"m":29,"h":180,"v":0.8},{"m":29,"h":192,"v":-2.5},{"m":29,"h":204,"v":-4.5},{"m":29,"h":216,"v":-6},{"m":29,"h":228,"v":-7.5},{"m":29,"h":240,"v":-7},{"m":29,"h":252,"v":-5},{"m":29,"h":264,"v":-2.5},{"m":29,"h":276,"v":0},{"m":29,"h":288,"v":2.5},{"m":29,"h":300,"v":4.9},{"m":29,"h":312,"v":9.2},{"m":29,"h":324,"v":11},{"m":29,"h":336,"v":10.8},{"m":29,"h":348,"v":9},{"m":29,"h":360,"v":6},
{"m":30,"h":0,"v":5.3},{"m":30,"h":12,"v":4.7},{"m":30,"h":24,"v":3.9},{"m":30,"h":36,"v":5},{"m":30,"h":48,"v":4.8},{"m":30,"h":60,"v":5.4},{"m":30,"h":72,"v":4.8},{"m":30,"h":84,"v":4.1},{"m":30,"h":96,"v":5.8},{"m":30,"h":108,"v":7.1},{"m":30,"h":120,"v":6.7},{"m":30,"h":132,"v":5.6},{"m":30,"h":144,"v":3.9},{"m":30,"h":156,"v":3.2},{"m":30,"h":168,"v":1.8},{"m":30,"h":180,"v":0},{"m":30,"h":192,"v":-3.8},{"m":30,"h":204,"v":-6},{"m":30,"h":216,"v":-8},{"m":30,"h":228,"v":-10},{"m":30,"h":240,"v":-11},{"m":30,"h":252,"v":-9},{"m":30,"h":264,"v":-6.5},{"m":30,"h":276,"v":-4},{"m":30,"h":288,"v":-1.5},{"m":30,"h":300,"v":1},{"m":30,"h":312,"v":2.5},{"m":30,"h":324,"v":1},{"m":30,"h":336,"v":-5.4},{"m":30,"h":348,"v":-7.8},{"m":30,"h":360,"v":-5.6},
{"m":31,"h":0,"v":5.2},{"m":31,"h":12,"v":4.6},{"m":31,"h":24,"v":3.7},{"m":31,"h":36,"v":4.7},{"m":31,"h":48,"v":4.6},{"m":31,"h":60,"v":5.3},{"m":31,"h":72,"v":4.5},{"m":31,"h":84,"v":4.5},{"m":31,"h":96,"v":6.3},{"m":31,"h":108,"v":7.9},{"m":31,"h":120,"v":7.4},{"m":31,"h":132,"v":6.4},{"m":31,"h":144,"v":4.9},{"m":31,"h":156,"v":3.5},{"m":31,"h":168,"v":2.3},{"m":31,"h":180,"v":0.8},{"m":31,"h":192,"v":-2.5},{"m":31,"h":204,"v":-4.5},{"m":31,"h":216,"v":-6},{"m":31,"h":228,"v":-7},{"m":31,"h":240,"v":-6},{"m":31,"h":252,"v":-4},{"m":31,"h":264,"v":-2},{"m":31,"h":276,"v":0},{"m":31,"h":288,"v":1.5},{"m":31,"h":300,"v":3},{"m":31,"h":312,"v":4.5},{"m":31,"h":324,"v":5.5},{"m":31,"h":336,"v":6.5},{"m":31,"h":348,"v":7.5},{"m":31,"h":360,"v":8.5},
{"m":32,"h":0,"v":5},{"m":32,"h":12,"v":4.4},{"m":32,"h":24,"v":3.5},{"m":32,"h":36,"v":4.5},{"m":32,"h":48,"v":4.3},{"m":32,"h":60,"v":4.9},{"m":32,"h":72,"v":4.1},{"m":32,"h":84,"v":3.9},{"m":32,"h":96,"v":5.5},{"m":32,"h":108,"v":6.8},{"m":32,"h":120,"v":6.4},{"m":32,"h":132,"v":5.2},{"m":32,"h":144,"v":3.5},{"m":32,"h":156,"v":2.8},{"m":32,"h":168,"v":1.2},{"m":32,"h":180,"v":-3.5},{"m":32,"h":192,"v":-6.5},{"m":32,"h":204,"v":-10},{"m":32,"h":216,"v":-11.5},{"m":32,"h":228,"v":-11},{"m":32,"h":240,"v":-10.5},{"m":32,"h":252,"v":-8},{"m":32,"h":264,"v":-5},{"m":32,"h":276,"v":-2.5},{"m":32,"h":288,"v":-0.5},{"m":32,"h":300,"v":1.5},{"m":32,"h":312,"v":3.5},{"m":32,"h":324,"v":5},{"m":32,"h":336,"v":6.5},{"m":32,"h":348,"v":8},{"m":32,"h":360,"v":9},
{"m":33,"h":0,"v":5.1},{"m":33,"h":12,"v":4.5},{"m":33,"h":24,"v":3.6},{"m":33,"h":36,"v":4.7},{"m":33,"h":48,"v":4.5},{"m":33,"h":60,"v":5.1},{"m":33,"h":72,"v":4.4},{"m":33,"h":84,"v":4.3},{"m":33,"h":96,"v":6.1},{"m":33,"h":108,"v":7.6},{"m":33,"h":120,"v":7.2},{"m":33,"h":132,"v":6},{"m":33,"h":144,"v":4.4},{"m":33,"h":156,"v":3.2},{"m":33,"h":168,"v":1.8},{"m":33,"h":180,"v":0},{"m":33,"h":192,"v":-3.5},{"m":33,"h":204,"v":-5.5},{"m":33,"h":216,"v":-7.5},{"m":33,"h":228,"v":-9},{"m":33,"h":240,"v":-8.5},{"m":33,"h":252,"v":-6},{"m":33,"h":264,"v":-3},{"m":33,"h":276,"v":-1},{"m":33,"h":288,"v":0.5},{"m":33,"h":300,"v":-1.5},{"m":33,"h":312,"v":-5},{"m":33,"h":324,"v":-7.6},{"m":33,"h":336,"v":-8.5},{"m":33,"h":348,"v":-6.1},{"m":33,"h":360,"v":-5.6},
{"m":34,"h":0,"v":5.5},{"m":34,"h":12,"v":4.9},{"m":34,"h":24,"v":4.1},{"m":34,"h":36,"v":5.3},{"m":34,"h":48,"v":5.1},{"m":34,"h":60,"v":5.7},{"m":34,"h":72,"v":5.1},{"m":34,"h":84,"v":5.4},{"m":34,"h":96,"v":7.8},{"m":34,"h":108,"v":9.6},{"m":34,"h":120,"v":9.2},{"m":34,"h":132,"v":8.2},{"m":34,"h":144,"v":6.8},{"m":34,"h":156,"v":4.8},{"m":34,"h":168,"v":3},{"m":34,"h":180,"v":1},{"m":34,"h":192,"v":-2},{"m":34,"h":204,"v":-4},{"m":34,"h":216,"v":-5.5},{"m":34,"h":228,"v":-7},{"m":34,"h":240,"v":-6},{"m":34,"h":252,"v":-4},{"m":34,"h":264,"v":-1.5},{"m":34,"h":276,"v":1.5},{"m":34,"h":288,"v":3.5},{"m":34,"h":300,"v":5.8},{"m":34,"h":312,"v":6.7},{"m":34,"h":324,"v":8.8},{"m":34,"h":336,"v":10.5},{"m":34,"h":348,"v":12.3},{"m":34,"h":360,"v":10.3},
{"m":35,"h":0,"v":5},{"m":35,"h":12,"v":4.4},{"m":35,"h":24,"v":3.5},{"m":35,"h":36,"v":4.5},{"m":35,"h":48,"v":4.3},{"m":35,"h":60,"v":4.9},{"m":35,"h":72,"v":4.1},{"m":35,"h":84,"v":5.1},{"m":35,"h":96,"v":7.3},{"m":35,"h":108,"v":9},{"m":35,"h":120,"v":8.6},{"m":35,"h":132,"v":7.6},{"m":35,"h":144,"v":6.1},{"m":35,"h":156,"v":4.3},{"m":35,"h":168,"v":2.8},{"m":35,"h":180,"v":0.8},{"m":35,"h":192,"v":-2.5},{"m":35,"h":204,"v":-4.5},{"m":35,"h":216,"v":-6},{"m":35,"h":228,"v":-7.5},{"m":35,"h":240,"v":-7},{"m":35,"h":252,"v":-5.5},{"m":35,"h":264,"v":-3.5},{"m":35,"h":276,"v":-1.5},{"m":35,"h":288,"v":0.5},{"m":35,"h":300,"v":2},{"m":35,"h":312,"v":1},{"m":35,"h":324,"v":-2},{"m":35,"h":336,"v":-5},{"m":35,"h":348,"v":-7},{"m":35,"h":360,"v":-8.9},
{"m":36,"h":0,"v":5.3},{"m":36,"h":12,"v":4.7},{"m":36,"h":24,"v":3.9},{"m":36,"h":36,"v":5},{"m":36,"h":48,"v":4.8},{"m":36,"h":60,"v":5.4},{"m":36,"h":72,"v":4.8},{"m":36,"h":84,"v":4.9},{"m":36,"h":96,"v":7},{"m":36,"h":108,"v":8.7},{"m":36,"h":120,"v":8.3},{"m":36,"h":132,"v":7.2},{"m":36,"h":144,"v":5.7},{"m":36,"h":156,"v":4},{"m":36,"h":168,"v":2.7},{"m":36,"h":180,"v":1.3},{"m":36,"h":192,"v":-1.5},{"m":36,"h":204,"v":-3.5},{"m":36,"h":216,"v":-5},{"m":36,"h":228,"v":-6},{"m":36,"h":240,"v":-5},{"m":36,"h":252,"v":-3},{"m":36,"h":264,"v":-1},{"m":36,"h":276,"v":0.5},{"m":36,"h":288,"v":1.5},{"m":36,"h":300,"v":2.5},{"m":36,"h":312,"v":1},{"m":36,"h":324,"v":-3},{"m":36,"h":336,"v":-6.5},{"m":36,"h":348,"v":-9},{"m":36,"h":360,"v":-10.3},
{"m":37,"h":0,"v":5.2},{"m":37,"h":12,"v":4.6},{"m":37,"h":24,"v":3.7},{"m":37,"h":36,"v":4.8},{"m":37,"h":48,"v":4.5},{"m":37,"h":60,"v":5.2},{"m":37,"h":72,"v":4.6},{"m":37,"h":84,"v":4.5},{"m":37,"h":96,"v":6.4},{"m":37,"h":108,"v":7.8},{"m":37,"h":120,"v":7.5},{"m":37,"h":132,"v":6.5},{"m":37,"h":144,"v":4.8},{"m":37,"h":156,"v":3.5},{"m":37,"h":168,"v":2.2},{"m":37,"h":180,"v":0.6},{"m":37,"h":192,"v":-3},{"m":37,"h":204,"v":-5.5},{"m":37,"h":216,"v":-8},{"m":37,"h":228,"v":-10},{"m":37,"h":240,"v":-9.5},{"m":37,"h":252,"v":-7.5},{"m":37,"h":264,"v":-5.5},{"m":37,"h":276,"v":-4},{"m":37,"h":288,"v":-3},{"m":37,"h":300,"v":-2},{"m":37,"h":312,"v":-0.5},{"m":37,"h":324,"v":1},{"m":37,"h":336,"v":2},{"m":37,"h":348,"v":1.5},{"m":37,"h":360,"v":0.5},
{"m":38,"h":0,"v":5.3},{"m":38,"h":12,"v":4.7},{"m":38,"h":24,"v":3.8},{"m":38,"h":36,"v":4.9},{"m":38,"h":48,"v":4.7},{"m":38,"h":60,"v":5.3},{"m":38,"h":72,"v":4.6},{"m":38,"h":84,"v":4.7},{"m":38,"h":96,"v":6.7},{"m":38,"h":108,"v":8.2},{"m":38,"h":120,"v":7.8},{"m":38,"h":132,"v":6.8},{"m":38,"h":144,"v":5.2},{"m":38,"h":156,"v":3.7},{"m":38,"h":168,"v":2.5},{"m":38,"h":180,"v":1},{"m":38,"h":192,"v":-2.5},{"m":38,"h":204,"v":-4.5},{"m":38,"h":216,"v":-6.5},{"m":38,"h":228,"v":-8.5},{"m":38,"h":240,"v":-9},{"m":38,"h":252,"v":-7},{"m":38,"h":264,"v":-5.5},{"m":38,"h":276,"v":-5},{"m":38,"h":288,"v":-4},{"m":38,"h":300,"v":-3},{"m":38,"h":312,"v":-2},{"m":38,"h":324,"v":-0.5},{"m":38,"h":336,"v":0.5},{"m":38,"h":348,"v":1.5},{"m":38,"h":360,"v":-0.5},
{"m":39,"h":0,"v":5.4},{"m":39,"h":12,"v":4.8},{"m":39,"h":24,"v":4},{"m":39,"h":36,"v":5.1},{"m":39,"h":48,"v":4.9},{"m":39,"h":60,"v":5.6},{"m":39,"h":72,"v":4.9},{"m":39,"h":84,"v":3.9},{"m":39,"h":96,"v":5.5},{"m":39,"h":108,"v":6.8},{"m":39,"h":120,"v":6.4},{"m":39,"h":132,"v":5.2},{"m":39,"h":144,"v":3.5},{"m":39,"h":156,"v":3.5},{"m":39,"h":168,"v":2.3},{"m":39,"h":180,"v":0.6},{"m":39,"h":192,"v":-3.5},{"m":39,"h":204,"v":-6},{"m":39,"h":216,"v":-8.5},{"m":39,"h":228,"v":-10.5},{"m":39,"h":240,"v":-10},{"m":39,"h":252,"v":-8},{"m":39,"h":264,"v":-5.5},{"m":39,"h":276,"v":-3},{"m":39,"h":288,"v":-0.5},{"m":39,"h":300,"v":1.5},{"m":39,"h":312,"v":3},{"m":39,"h":324,"v":-1},{"m":39,"h":336,"v":-6.1},{"m":39,"h":348,"v":-8.9},{"m":39,"h":360,"v":-11.8},
{"m":40,"h":0,"v":5},{"m":40,"h":12,"v":4.4},{"m":40,"h":24,"v":3.4},{"m":40,"h":36,"v":4.5},{"m":40,"h":48,"v":4.3},{"m":40,"h":60,"v":4.8},{"m":40,"h":72,"v":2.2},{"m":40,"h":84,"v":1.7},{"m":40,"h":96,"v":4},{"m":40,"h":108,"v":6.5},{"m":40,"h":120,"v":6.8},{"m":40,"h":132,"v":5.5},{"m":40,"h":144,"v":3.8},{"m":40,"h":156,"v":3},{"m":40,"h":168,"v":1.8},{"m":40,"h":180,"v":0.2},{"m":40,"h":192,"v":-3},{"m":40,"h":204,"v":-5},{"m":40,"h":216,"v":-7},{"m":40,"h":228,"v":-9},{"m":40,"h":240,"v":-9.5},{"m":40,"h":252,"v":-8},{"m":40,"h":264,"v":-6},{"m":40,"h":276,"v":-4},{"m":40,"h":288,"v":-2},{"m":40,"h":300,"v":-0.5},{"m":40,"h":312,"v":1},{"m":40,"h":324,"v":2.5},{"m":40,"h":336,"v":3.5},{"m":40,"h":348,"v":4.5},{"m":40,"h":360,"v":3.5},
{"m":41,"h":0,"v":5.4},{"m":41,"h":12,"v":4.8},{"m":41,"h":24,"v":4},{"m":41,"h":36,"v":5.1},{"m":41,"h":48,"v":4.9},{"m":41,"h":60,"v":5.6},{"m":41,"h":72,"v":4.9},{"m":41,"h":84,"v":5.1},{"m":41,"h":96,"v":7.3},{"m":41,"h":108,"v":9},{"m":41,"h":120,"v":8.6},{"m":41,"h":132,"v":7.6},{"m":41,"h":144,"v":6.1},{"m":41,"h":156,"v":4.5},{"m":41,"h":168,"v":2.7},{"m":41,"h":180,"v":1.3},{"m":41,"h":192,"v":-1.8},{"m":41,"h":204,"v":-3.5},{"m":41,"h":216,"v":-4.5},{"m":41,"h":228,"v":-5.5},{"m":41,"h":240,"v":-4.5},{"m":41,"h":252,"v":-3},{"m":41,"h":264,"v":-1.5},{"m":41,"h":276,"v":-0.5},{"m":41,"h":288,"v":0.5},{"m":41,"h":300,"v":1.5},{"m":41,"h":312,"v":2.5},{"m":41,"h":324,"v":3},{"m":41,"h":336,"v":3.5},{"m":41,"h":348,"v":4},{"m":41,"h":360,"v":2.5},
{"m":42,"h":0,"v":5.1},{"m":42,"h":12,"v":4.5},{"m":42,"h":24,"v":3.6},{"m":42,"h":36,"v":4.7},{"m":42,"h":48,"v":4.5},{"m":42,"h":60,"v":5.1},{"m":42,"h":72,"v":4.4},{"m":42,"h":84,"v":4.3},{"m":42,"h":96,"v":6.1},{"m":42,"h":108,"v":7.6},{"m":42,"h":120,"v":7.2},{"m":42,"h":132,"v":6},{"m":42,"h":144,"v":4.4},{"m":42,"h":156,"v":3.5},{"m":42,"h":168,"v":2.2},{"m":42,"h":180,"v":0.5},{"m":42,"h":192,"v":-3.5},{"m":42,"h":204,"v":-6},{"m":42,"h":216,"v":-8.5},{"m":42,"h":228,"v":-10.5},{"m":42,"h":240,"v":-11},{"m":42,"h":252,"v":-10},{"m":42,"h":264,"v":-8},{"m":42,"h":276,"v":-5.5},{"m":42,"h":288,"v":-3.5},{"m":42,"h":300,"v":-1.5},{"m":42,"h":312,"v":0.5},{"m":42,"h":324,"v":2},{"m":42,"h":336,"v":3.5},{"m":42,"h":348,"v":4.5},{"m":42,"h":360,"v":4},
{"m":43,"h":0,"v":4.9},{"m":43,"h":12,"v":4.3},{"m":43,"h":24,"v":3.3},{"m":43,"h":36,"v":4.4},{"m":43,"h":48,"v":4.2},{"m":43,"h":60,"v":4.7},{"m":43,"h":72,"v":3.9},{"m":43,"h":84,"v":3.6},{"m":43,"h":96,"v":5.1},{"m":43,"h":108,"v":6.3},{"m":43,"h":120,"v":5.9},{"m":43,"h":132,"v":4.6},{"m":43,"h":144,"v":2.9},{"m":43,"h":156,"v":2.8},{"m":43,"h":168,"v":1.2},{"m":43,"h":180,"v":-4},{"m":43,"h":192,"v":-9},{"m":43,"h":204,"v":-13.5},{"m":43,"h":216,"v":-11},{"m":43,"h":228,"v":-12.5},{"m":43,"h":240,"v":-10.5},{"m":43,"h":252,"v":-8.5},{"m":43,"h":264,"v":-7},{"m":43,"h":276,"v":-5.5},{"m":43,"h":288,"v":-4.5},{"m":43,"h":300,"v":-3},{"m":43,"h":312,"v":-1.5},{"m":43,"h":324,"v":0},{"m":43,"h":336,"v":1},{"m":43,"h":348,"v":1.5},{"m":43,"h":360,"v":0},
{"m":44,"h":0,"v":5.3},{"m":44,"h":12,"v":4.7},{"m":44,"h":24,"v":3.8},{"m":44,"h":36,"v":4.9},{"m":44,"h":48,"v":4.7},{"m":44,"h":60,"v":5.3},{"m":44,"h":72,"v":4.6},{"m":44,"h":84,"v":4.7},{"m":44,"h":96,"v":6.7},{"m":44,"h":108,"v":8.2},{"m":44,"h":120,"v":7.8},{"m":44,"h":132,"v":6.8},{"m":44,"h":144,"v":5.2},{"m":44,"h":156,"v":3.5},{"m":44,"h":168,"v":2.3},{"m":44,"h":180,"v":0.7},{"m":44,"h":192,"v":-3},{"m":44,"h":204,"v":-5},{"m":44,"h":216,"v":-7.5},{"m":44,"h":228,"v":-9.5},{"m":44,"h":240,"v":-9},{"m":44,"h":252,"v":-7.5},{"m":44,"h":264,"v":-6},{"m":44,"h":276,"v":-4.5},{"m":44,"h":288,"v":-3.5},{"m":44,"h":300,"v":-2.5},{"m":44,"h":312,"v":-1.5},{"m":44,"h":324,"v":-1},{"m":44,"h":336,"v":-2.5},{"m":44,"h":348,"v":-3.5},{"m":44,"h":360,"v":-4.5},
{"m":45,"h":0,"v":5.1},{"m":45,"h":12,"v":4.5},{"m":45,"h":24,"v":3.5},{"m":45,"h":36,"v":4.6},{"m":45,"h":48,"v":4.4},{"m":45,"h":60,"v":5},{"m":45,"h":72,"v":4.2},{"m":45,"h":84,"v":4.1},{"m":45,"h":96,"v":5.8},{"m":45,"h":108,"v":7.1},{"m":45,"h":120,"v":6.7},{"m":45,"h":132,"v":5.6},{"m":45,"h":144,"v":3.9},{"m":45,"h":156,"v":3.2},{"m":45,"h":168,"v":1.8},{"m":45,"h":180,"v":0},{"m":45,"h":192,"v":-3.8},{"m":45,"h":204,"v":-6.5},{"m":45,"h":216,"v":-9},{"m":45,"h":228,"v":-11.5},{"m":45,"h":240,"v":-14},{"m":45,"h":252,"v":-18},{"m":45,"h":264,"v":-14.7},{"m":45,"h":276,"v":-12},{"m":45,"h":288,"v":-9},{"m":45,"h":300,"v":-6.5},{"m":45,"h":312,"v":-4},{"m":45,"h":324,"v":-2},{"m":45,"h":336,"v":0},{"m":45,"h":348,"v":1.5},{"m":45,"h":360,"v":0.5},
{"m":46,"h":0,"v":5.1},{"m":46,"h":12,"v":4.5},{"m":46,"h":24,"v":3.5},{"m":46,"h":36,"v":4.6},{"m":46,"h":48,"v":4.4},{"m":46,"h":60,"v":5},{"m":46,"h":72,"v":4.2},{"m":46,"h":84,"v":4.9},{"m":46,"h":96,"v":7},{"m":46,"h":108,"v":8.7},{"m":46,"h":120,"v":8.3},{"m":46,"h":132,"v":7.2},{"m":46,"h":144,"v":5.7},{"m":46,"h":156,"v":3.8},{"m":46,"h":168,"v":2.2},{"m":46,"h":180,"v":0.6},{"m":46,"h":192,"v":-3},{"m":46,"h":204,"v":-5},{"m":46,"h":216,"v":-7},{"m":46,"h":228,"v":-9},{"m":46,"h":240,"v":-9},{"m":46,"h":252,"v":-7},{"m":46,"h":264,"v":-8},{"m":46,"h":276,"v":-9},{"m":46,"h":288,"v":-10},{"m":46,"h":300,"v":-9.5},{"m":46,"h":312,"v":-8.5},{"m":46,"h":324,"v":-4},{"m":46,"h":336,"v":2},{"m":46,"h":348,"v":6},{"m":46,"h":360,"v":9.2},
{"m":47,"h":0,"v":5.4},{"m":47,"h":12,"v":4.8},{"m":47,"h":24,"v":4},{"m":47,"h":36,"v":5.1},{"m":47,"h":48,"v":4.9},{"m":47,"h":60,"v":5.6},{"m":47,"h":72,"v":4.9},{"m":47,"h":84,"v":5.1},{"m":47,"h":96,"v":7.3},{"m":47,"h":108,"v":9},{"m":47,"h":120,"v":8.6},{"m":47,"h":132,"v":7.6},{"m":47,"h":144,"v":6.1},{"m":47,"h":156,"v":4.5},{"m":47,"h":168,"v":2.6},{"m":47,"h":180,"v":1.2},{"m":47,"h":192,"v":-2},{"m":47,"h":204,"v":-4},{"m":47,"h":216,"v":-5.5},{"m":47,"h":228,"v":-6.5},{"m":47,"h":240,"v":-5.5},{"m":47,"h":252,"v":-3.5},{"m":47,"h":264,"v":-1.5},{"m":47,"h":276,"v":0.5},{"m":47,"h":288,"v":-1.5},{"m":47,"h":300,"v":-4},{"m":47,"h":312,"v":-6.5},{"m":47,"h":324,"v":-9.5},{"m":47,"h":336,"v":-12},{"m":47,"h":348,"v":-10},{"m":47,"h":360,"v":-7},
{"m":48,"h":0,"v":5.2},{"m":48,"h":12,"v":4.6},{"m":48,"h":24,"v":3.7},{"m":48,"h":36,"v":4.8},{"m":48,"h":48,"v":4.6},{"m":48,"h":60,"v":5.2},{"m":48,"h":72,"v":4.5},{"m":48,"h":84,"v":4.5},{"m":48,"h":96,"v":6.4},{"m":48,"h":108,"v":7.9},{"m":48,"h":120,"v":7.5},{"m":48,"h":132,"v":6.4},{"m":48,"h":144,"v":4.8},{"m":48,"h":156,"v":3.5},{"m":48,"h":168,"v":2.3},{"m":48,"h":180,"v":0.7},{"m":48,"h":192,"v":-3.2},{"m":48,"h":204,"v":-5.5},{"m":48,"h":216,"v":-7.5},{"m":48,"h":228,"v":-9.5},{"m":48,"h":240,"v":-9},{"m":48,"h":252,"v":-7},{"m":48,"h":264,"v":-5.5},{"m":48,"h":276,"v":-4.5},{"m":48,"h":288,"v":-6},{"m":48,"h":300,"v":-8},{"m":48,"h":312,"v":-11},{"m":48,"h":324,"v":-10.6},{"m":48,"h":336,"v":-8.9},{"m":48,"h":348,"v":-6},{"m":48,"h":360,"v":-4.4},
{"m":49,"h":0,"v":5.1},{"m":49,"h":12,"v":4.5},{"m":49,"h":24,"v":3.6},{"m":49,"h":36,"v":4.7},{"m":49,"h":48,"v":4.5},{"m":49,"h":60,"v":5.1},{"m":49,"h":72,"v":4.4},{"m":49,"h":84,"v":4.4},{"m":49,"h":96,"v":6.3},{"m":49,"h":108,"v":7.8},{"m":49,"h":120,"v":6},{"m":49,"h":132,"v":3.7},{"m":49,"h":144,"v":2.2},{"m":49,"h":156,"v":0.3},{"m":49,"h":168,"v":-0.5},{"m":49,"h":180,"v":-2},{"m":49,"h":192,"v":-5},{"m":49,"h":204,"v":-7},{"m":49,"h":216,"v":-9},{"m":49,"h":228,"v":-10.5},{"m":49,"h":240,"v":-10},{"m":49,"h":252,"v":-8},{"m":49,"h":264,"v":-6},{"m":49,"h":276,"v":-4},{"m":49,"h":288,"v":-2},{"m":49,"h":300,"v":0},{"m":49,"h":312,"v":1.5},{"m":49,"h":324,"v":3},{"m":49,"h":336,"v":4},{"m":49,"h":348,"v":5},{"m":49,"h":360,"v":4.5},
{"m":50,"h":0,"v":5.3},{"m":50,"h":12,"v":4.7},{"m":50,"h":24,"v":3.9},{"m":50,"h":36,"v":5},{"m":50,"h":48,"v":4.8},{"m":50,"h":60,"v":5.4},{"m":50,"h":72,"v":4.8},{"m":50,"h":84,"v":4.9},{"m":50,"h":96,"v":7},{"m":50,"h":108,"v":8.7},{"m":50,"h":120,"v":8.3},{"m":50,"h":132,"v":7.2},{"m":50,"h":144,"v":5.7},{"m":50,"h":156,"v":3.9},{"m":50,"h":168,"v":2.5},{"m":50,"h":180,"v":0.9},{"m":50,"h":192,"v":-2.5},{"m":50,"h":204,"v":-4.5},{"m":50,"h":216,"v":-6.5},{"m":50,"h":228,"v":-8.5},{"m":50,"h":240,"v":-9.5},{"m":50,"h":252,"v":-8.5},{"m":50,"h":264,"v":-7},{"m":50,"h":276,"v":-5},{"m":50,"h":288,"v":-3},{"m":50,"h":300,"v":-1},{"m":50,"h":312,"v":0.5},{"m":50,"h":324,"v":2},{"m":50,"h":336,"v":3},{"m":50,"h":348,"v":2},{"m":50,"h":360,"v":-1}
],
"runs": [
{"s":"M","h":0,"v":5.25},{"s":"M","h":6,"v":5.2},{"s":"M","h":12,"v":4.6},{"s":"M","h":18,"v":4.1},{"s":"M","h":24,"v":3.7},{"s":"M","h":30,"v":4.3},{"s":"M","h":36,"v":4.8},{"s":"M","h":42,"v":4.7},{"s":"M","h":48,"v":4.55},{"s":"M","h":54,"v":4.55},{"s":"M","h":60,"v":5.25},{"s":"M","h":66,"v":5.2},{"s":"M","h":72,"v":4.5},{"s":"M","h":78,"v":3.95},{"s":"M","h":84,"v":4.5},{"s":"M","h":90,"v":5.5},{"s":"M","h":96,"v":6.4},{"s":"M","h":102,"v":7.3},{"s":"M","h":108,"v":7.95},{"s":"M","h":114,"v":7.8},{"s":"M","h":120,"v":7.55},{"s":"M","h":126,"v":7.2},{"s":"M","h":132,"v":6.4},{"s":"M","h":138,"v":5.6},{"s":"M","h":144,"v":4.85},{"s":"M","h":150,"v":3.7},{"s":"M","h":156,"v":3.5},{"s":"M","h":162,"v":3.1},{"s":"M","h":168,"v":2.3},{"s":"M","h":174,"v":1.6},{"s":"M","h":180,"v":0.8},{"s":"M","h":186,"v":-1.2},{"s":"M","h":192,"v":-3},{"s":"M","h":198,"v":-4.3},{"s":"M","h":204,"v":-4.8},{"s":"M","h":210,"v":-5.3},{"s":"M","h":216,"v":-6.3},{"s":"M","h":222,"v":-7.4},{"s":"M","h":228,"v":-7.95},{"s":"M","h":234,"v":-8},{"s":"M","h":240,"v":-7.4},{"s":"M","h":246,"v":-6.9},{"s":"M","h":252,"v":-5.8},{"s":"M","h":258,"v":-4.9},{"s":"M","h":264,"v":-4.6},{"s":"M","h":270,"v":-4.2},{"s":"M","h":276,"v":-3.2},{"s":"M","h":282,"v":-2.6},{"s":"M","h":288,"v":-2.3},{"s":"M","h":294,"v":-2.2},{"s":"M","h":300,"v":-1.3},{"s":"M","h":306,"v":-0.6},{"s":"M","h":312,"v":-0.1},{"s":"M","h":318,"v":0.3},{"s":"M","h":324,"v":0.8},{"s":"M","h":330,"v":1.2},{"s":"M","h":336,"v":1.3},{"s":"M","h":342,"v":1.35},{"s":"M","h":348,"v":1.7},{"s":"M","h":354,"v":1.6},{"s":"M","h":360,"v":0.55},
{"s":"E","h":0,"v":5.2},{"s":"E","h":6,"v":5.15},{"s":"E","h":12,"v":4.5},{"s":"E","h":18,"v":4},{"s":"E","h":24,"v":3.6},{"s":"E","h":30,"v":4.2},{"s":"E","h":36,"v":4.75},{"s":"E","h":42,"v":4.5},{"s":"E","h":48,"v":4.3},{"s":"E","h":54,"v":4.3},{"s":"E","h":60,"v":5.4},{"s":"E","h":66,"v":5.3},{"s":"E","h":72,"v":4.4},{"s":"E","h":78,"v":3.9},{"s":"E","h":84,"v":4.6},{"s":"E","h":90,"v":6},{"s":"E","h":96,"v":7.2},{"s":"E","h":102,"v":8.5},{"s":"E","h":108,"v":8.5},{"s":"E","h":114,"v":8.35},{"s":"E","h":120,"v":8},{"s":"E","h":126,"v":7.6},{"s":"E","h":132,"v":6.7},{"s":"E","h":138,"v":5.8},{"s":"E","h":144,"v":4.9},{"s":"E","h":150,"v":3.8},{"s":"E","h":156,"v":4.35},{"s":"E","h":162,"v":4.35},{"s":"E","h":168,"v":3},{"s":"E","h":174,"v":2.2},{"s":"E","h":180,"v":1.85},{"s":"E","h":186,"v":-1.3},{"s":"E","h":192,"v":-4.8},{"s":"E","h":198,"v":-6.6},{"s":"E","h":204,"v":-7.3},{"s":"E","h":210,"v":-7.4},{"s":"E","h":216,"v":-7.5},{"s":"E","h":222,"v":-8},{"s":"E","h":228,"v":-8.05},{"s":"E","h":234,"v":-7.6},{"s":"E","h":240,"v":-8.15},
{"s":"C","h":0,"v":5.1},{"s":"C","h":6,"v":5.2},{"s":"C","h":12,"v":4.6},{"s":"C","h":18,"v":4.1},{"s":"C","h":24,"v":3.8},{"s":"C","h":30,"v":4.3},{"s":"C","h":36,"v":4.8},{"s":"C","h":42,"v":4.6},{"s":"C","h":48,"v":4.5},{"s":"C","h":54,"v":4.6},{"s":"C","h":60,"v":5.3},{"s":"C","h":66,"v":5.1},{"s":"C","h":72,"v":4.4},{"s":"C","h":78,"v":3.8},{"s":"C","h":84,"v":4.3},{"s":"C","h":90,"v":5.4},{"s":"C","h":96,"v":6.5},{"s":"C","h":102,"v":7.6},{"s":"C","h":108,"v":8.1},{"s":"C","h":114,"v":7.9},{"s":"C","h":120,"v":7.5},{"s":"C","h":126,"v":7},{"s":"C","h":132,"v":6.2},{"s":"C","h":138,"v":5.4},{"s":"C","h":144,"v":4.5},{"s":"C","h":150,"v":3.6},{"s":"C","h":156,"v":3.3},{"s":"C","h":162,"v":2.8},{"s":"C","h":168,"v":2},{"s":"C","h":174,"v":1.2},{"s":"C","h":180,"v":0.2},{"s":"C","h":186,"v":-2},{"s":"C","h":192,"v":-3.8},{"s":"C","h":198,"v":-5},{"s":"C","h":204,"v":-5.6},{"s":"C","h":210,"v":-6},{"s":"C","h":216,"v":-5.6},{"s":"C","h":222,"v":-5.4},{"s":"C","h":228,"v":-4.8},{"s":"C","h":234,"v":-5.3},{"s":"C","h":240,"v":-7.8},{"s":"C","h":246,"v":-7.2},{"s":"C","h":252,"v":-6.7},{"s":"C","h":258,"v":-5.6},{"s":"C","h":264,"v":-4.7},{"s":"C","h":270,"v":-0.9},{"s":"C","h":276,"v":1.5},{"s":"C","h":282,"v":1.9},{"s":"C","h":288,"v":0.8},{"s":"C","h":294,"v":0.4},{"s":"C","h":300,"v":1.9},{"s":"C","h":306,"v":2.8},{"s":"C","h":312,"v":3.9},{"s":"C","h":318,"v":3.2},{"s":"C","h":324,"v":2.9},{"s":"C","h":330,"v":2.45},{"s":"C","h":336,"v":1.5},{"s":"C","h":342,"v":0.7},{"s":"C","h":348,"v":0.75},{"s":"C","h":354,"v":1.1},{"s":"C","h":360,"v":0.55}
],
"perts": [{"m":1},{"m":2},{"m":3},{"m":4},{"m":5},{"m":6},{"m":7},{"m":8},{"m":9},{"m":10},{"m":11},{"m":12},{"m":13},{"m":14},{"m":15},{"m":16},{"m":17},{"m":18},{"m":19},{"m":20},{"m":21},{"m":22},{"m":23},{"m":24},{"m":25},{"m":26},{"m":27},{"m":28},{"m":29},{"m":30},{"m":31},{"m":32},{"m":33},{"m":34},{"m":35},{"m":36},{"m":37},{"m":38},{"m":39},{"m":40},{"m":41},{"m":42},{"m":43},{"m":44},{"m":45},{"m":46},{"m":47},{"m":48},{"m":49},{"m":50}],
"foot": [{"a":"Température 850hPa (°C)","b":"Copyright 2024 Meteociel.fr - ECMWF"}]
},
"layer": [
  {
    "layer": [
      {
        "data": {"name": "members"},
        "mark": {"type": "line", "strokeWidth": 1, "point": {"filled": true, "size": 5}},
        "encoding": {
          "x": {"field": "h", "type": "quantitative", "scale": {"domain": [0, 360], "nice": false, "zero": false},
                "axis": {"values": [0,24,48,72,96,120,144,168,192,216,240,264,288,312,336,360], "grid": true, "gridColor": "#c0c0c0", "gridWidth": 1, "domain": true, "domainColor": "black", "domainWidth": 1, "ticks": false, "labelAngle": -90, "labelPadding": 3, "labelOffset": 2, "labelFont": "DejaVu Sans Mono", "labelFontSize": 10, "labelColor": "black", "labelExpr": "(2+datum.value/24<10?'0':'')+(2+datum.value/24)+'/01'", "title": "(°C)", "titleAngle": 0, "titleX": 660, "titleY": 6, "titleAlign": "left", "titleBaseline": "middle"}},
          "y": {"field": "v", "type": "quantitative", "scale": {"domain": [-26.36, 16.5], "nice": false, "zero": false},
                "axis": {"values": [-25,-20,-15,-10,-5,0,5,10,15], "grid": true, "gridColor": {"condition": {"test": "datum.value === 0", "value": "#999999"}, "value": "#c0c0c0"}, "gridWidth": {"condition": {"test": "datum.value % 10 === 0", "value": 2.5}, "value": 1}, "domain": false, "ticks": false, "labelPadding": 8, "labelFont": "DejaVu Sans Mono", "labelFontSize": 10, "labelColor": "black", "title": "(°C)", "titleAngle": 0, "titleX": -30, "titleY": 606, "titleAlign": "left", "titleBaseline": "middle"}},
          "color": {"field": "m", "type": "nominal", "legend": null,
                    "scale": {"domain": [1,2,3,4,5,6,7,8,9,10,11,12,13,14,15,16,17,18,19,20,21,22,23,24,25,26,27,28,29,30,31,32,33,34,35,36,37,38,39,40,41,42,43,44,45,46,47,48,49,50],
                              "range": ["#d19ca4","#c99ce0","#d97b83","#a0522d","#9fcbe8","#7f55b0","#bfbf1f","#d8b050","#7fb86f","#2fc06f","#c04f7f","#b01fb0","#df2f5f","#a0b0e0","#c8b08f","#1f5fbf","#bfc05f","#afe04f","#60a0e0","#60e0f0","#bf3f1f","#a0c8a0","#c040d0","#1f7060","#b01c20","#c09f80","#902f80","#602f80","#903f50","#1f4f8f","#5fbf8f","#2fe0e0","#601fd0","#9f8f4f","#8fd08f","#bfe07f","#6f4f1f","#e0605f","#3f2f7f","#4fd03f","#afd8c8","#9f1f3f","#e08fcf","#6f9fbf","#a03fbf","#1fe08f","#dfe09f","#3f8f8f","#4f7f3f","#7f4fef"]}}
        }
      },
      {
        "data": {"name": "runs"},
        "transform": [{"filter": "datum.s === 'E'"}],
        "mark": {"type": "line", "strokeWidth": 3.5},
        "encoding": {
          "x": {"field": "h", "type": "quantitative"},
          "y": {"field": "v", "type": "quantitative"},
          "stroke": {"field": "s", "type": "nominal",
                     "scale": {"domain": ["M","C","B","E"], "range": ["#ff0000","#0000ff","#ffffff","#000000"]},
                     "legend": {"orient": "none", "legendX": -18, "legendY": 632, "direction": "horizontal", "columns": 2, "columnPadding": 19, "rowPadding": 0, "clipHeight": 10, "symbolType": "stroke", "symbolSize": 900, "symbolStrokeWidth": 4, "labelFont": "DejaVu Sans Mono", "labelFontSize": 10, "labelColor": "black", "labelOffset": 10, "labelLimit": 1000, "title": null, "padding": 0,
                                "labelExpr": "datum.label==='M'?'Moyenne des scénarios':datum.label==='C'?'Run de contrôle':datum.label==='E'?'Run CEP/ECMWF':''"}}
        }
      },
      {
        "data": {"name": "runs"},
        "transform": [{"filter": "datum.s === 'C'"}],
        "mark": {"type": "line", "strokeWidth": 3},
        "encoding": {
          "x": {"field": "h", "type": "quantitative"},
          "y": {"field": "v", "type": "quantitative"},
          "stroke": {"field": "s", "type": "nominal"}
        }
      },
      {
        "data": {"name": "runs"},
        "transform": [{"filter": "datum.s === 'M'"}],
        "mark": {"type": "line", "strokeWidth": 4},
        "encoding": {
          "x": {"field": "h", "type": "quantitative"},
          "y": {"field": "v", "type": "quantitative"},
          "stroke": {"field": "s", "type": "nominal"}
        }
      },
      {
        "data": {"name": "foot"},
        "mark": {"type": "point", "opacity": 0},
        "encoding": {
          "shape": {"field": "a", "type": "nominal",
                    "legend": {"orient": "none", "legendX": -28, "legendY": 667, "title": "Diagramme ensembles ECMWF/CEP 0.4° sur 360h pour Istanbul", "titleFont": "DejaVu Sans Mono", "titleFontSize": 12, "titleFontWeight": "bold", "titleColor": "black", "titlePadding": 2, "titleLimit": 1000, "labelFont": "DejaVu Sans Mono", "labelFontSize": 10, "labelColor": "black", "labelOffset": -10, "labelLimit": 1000, "symbolSize": 0, "symbolOpacity": 0, "symbolStrokeWidth": 0, "strokeColor": "black", "padding": 4}},
          "fill": {"field": "b", "type": "nominal",
                   "legend": {"orient": "none", "legendX": 399, "legendY": 670, "title": "Ensemble ECMWF/CEP du 02/01/2024 - 00Z", "titleFont": "DejaVu Sans Mono", "titleFontSize": 10, "titleFontWeight": "normal", "titleColor": "black", "titlePadding": 5, "titleLimit": 1000, "labelFont": "DejaVu Sans Mono", "labelFontSize": 11.6, "labelFontWeight": "bold", "labelColor": "black", "labelOffset": -12, "labelLimit": 1000, "symbolSize": 0, "symbolOpacity": 0, "symbolStrokeWidth": 0, "padding": 0}}
        }
      }
    ]
  },
  {
    "data": {"name": "perts"},
    "transform": [
      {"calculate": "(datum.m-1)%25", "as": "c"},
      {"calculate": "datum.c+0.91", "as": "c2"},
      {"calculate": "datum.c+0.45", "as": "cm"},
      {"calculate": "floor((datum.m-1)/25)", "as": "r"},
      {"calculate": "datum.r+1", "as": "r2"},
      {"calculate": "datum.r===0?-0.92:2.75", "as": "ty"},
      {"calculate": "(datum.m<10?'0':'')+datum.m", "as": "lab"}
    ],
    "layer": [
      {
        "mark": {"type": "rect"},
        "encoding": {
          "x": {"field": "c", "type": "quantitative", "scale": {"domain": [0, 25], "range": [380, 655], "nice": false, "zero": false}, "axis": null},
          "x2": {"field": "c2"},
          "y": {"field": "r", "type": "quantitative", "scale": {"domain": [0, 2], "range": [645, 657], "nice": false, "zero": false}, "axis": null},
          "y2": {"field": "r2"},
          "color": {"field": "m", "type": "nominal", "legend": null}
        }
      },
      {
        "mark": {"type": "text", "font": "DejaVu Sans Mono", "fontSize": 8, "baseline": "middle", "align": "center", "color": "black"},
        "encoding": {
          "x": {"field": "cm", "type": "quantitative"},
          "y": {"field": "ty", "type": "quantitative"},
          "text": {"field": "lab"}
        }
      },
      {
        "data": {"values": [{"t": "50 Perts."}]},
        "mark": {"type": "text", "font": "DejaVu Sans Mono", "fontSize": 10, "baseline": "middle", "align": "right", "color": "black"},
        "encoding": {
          "x": {"datum": -0.7, "type": "quantitative"},
          "y": {"datum": 1, "type": "quantitative"},
          "text": {"field": "t"}
        }
      }
    ]
  }
],
"resolve": {"scale": {"x": "independent", "y": "independent"}}
}
